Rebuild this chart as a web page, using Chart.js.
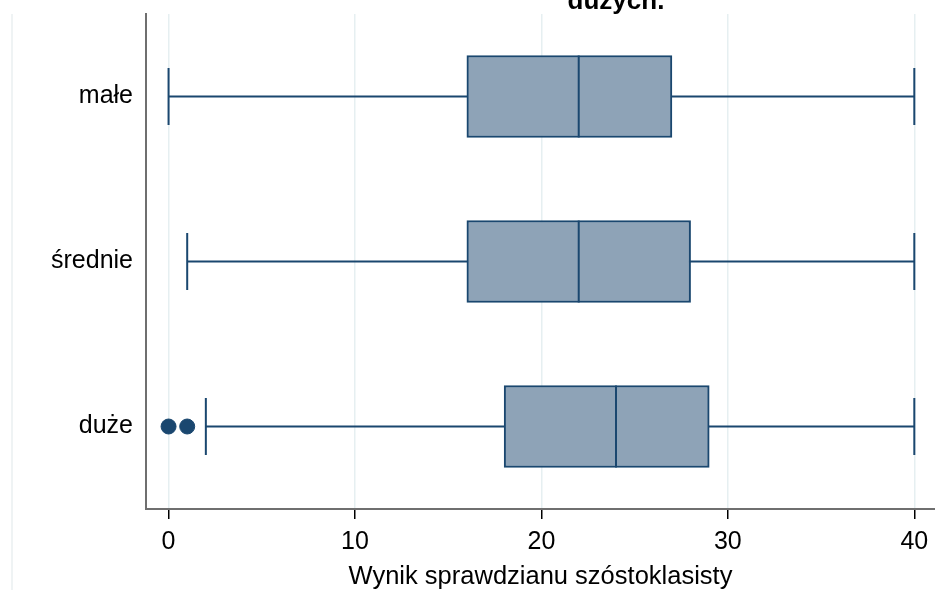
<!DOCTYPE html>
<html>
<head>
<meta charset="utf-8">
<script src="https://cdn.jsdelivr.net/npm/chart.js@4/dist/chart.umd.min.js"></script>
<style>
    html, body { margin: 0; padding: 0; background: #fff; }
    #wrap { width: 935px; height: 590px; }
</style>
</head>
<body>
<div id="wrap"><canvas id="box"></canvas></div>
<script>
// Wielkość szkoły vs wynik sprawdzianu
const groups = ['małe', 'średnie', 'duże'];
const whiskerLow = [0, 1, 2];
const q1 = [16, 16, 18];
const median = [22, 22, 24];
const q3 = [27, 28, 29];
const whiskerHigh = [40, 40, 40];
const outliers = [[], [], [0, 1]];
const xTicks = [0, 10, 20, 30, 40];
const xTitle = 'Wynik sprawdzianu szóstoklasisty';
const titleTail = 'dużych.';

const navy = '#1a476f';
const font = '"Liberation Sans", Arial, sans-serif';

const whiskers = groups.map((g, i) => ({
    type: 'line',
    data: [{ x: whiskerLow[i], y: g }, { x: whiskerHigh[i], y: g }],
    borderColor: navy,
    borderWidth: 2,
    pointRadius: 0,
    order: 2,
}));

const caps = [];
const outPts = [];
groups.forEach((g, i) => {
    caps.push({ x: whiskerLow[i], y: g });
    caps.push({ x: whiskerHigh[i], y: g });
    outliers[i].forEach(v => outPts.push({ x: v, y: g }));
});

// tytuł ucięty u góry + ramka obszaru wykresu
const extras = {
    id: 'extras',
    afterDraw(chart) {
        const ctx = chart.ctx;
        ctx.save();
        ctx.strokeStyle = '#eaeff0';
        ctx.lineWidth = 1.5;
        ctx.beginPath();
        ctx.moveTo(12, 14);
        ctx.lineTo(12, 590);
        ctx.stroke();
        ctx.fillStyle = '#000';
        ctx.font = 'bold 26px ' + font;
        ctx.textAlign = 'center';
        ctx.textBaseline = 'alphabetic';
        ctx.fillText(titleTail, 616, 9);
        ctx.restore();
    },
};

new Chart(document.querySelector('#box'), {
    type: 'bar',
    data: {
        labels: groups,
        datasets: [
            {
                type: 'scatter',
                data: median.map((m, i) => ({ x: m, y: groups[i] })),
                pointStyle: 'line',
                rotation: 90,
                radius: 41,
                borderColor: navy,
                borderWidth: 2,
                order: 0,
            },
            {
                type: 'scatter',
                data: caps,
                pointStyle: 'line',
                rotation: 90,
                radius: 28.5,
                borderColor: navy,
                borderWidth: 2,
                order: 0,
            },
            {
                type: 'scatter',
                data: outPts,
                pointStyle: 'circle',
                radius: 7.5,
                backgroundColor: navy,
                borderColor: navy,
                borderWidth: 1,
                order: 0,
            },
            {
                type: 'bar',
                indexAxis: 'y',
                data: groups.map((g, i) => ({ y: g, x: [q1[i], q3[i]] })),
                backgroundColor: '#8ea3b7',
                borderColor: navy,
                borderWidth: 2,
                borderSkipped: false,
                barThickness: 82,
                order: 1,
            },
            ...whiskers,
        ],
    },
    options: {
        responsive: true,
        maintainAspectRatio: false,
        animation: false,
        events: [],
        layout: { autoPadding: false, padding: { top: 14, left: 0, right: 0, bottom: 0 } },
        plugins: {
            legend: { display: false },
            tooltip: { enabled: false },
        },
        scales: {
            x: {
                type: 'linear',
                offset: false,
                min: -1.21,
                max: 41.11,
                afterBuildTicks: scale => {
                    scale.ticks = xTicks.map(v => ({ value: v }));
                },
                afterFit: scale => {
                    scale.height = 81;
                    scale.paddingLeft = 0;
                    scale.paddingRight = 0;
                },
                grid: {
                    offset: false,
                    color: '#e6eff1',
                    lineWidth: 1.5,
                    drawTicks: true,
                    tickLength: 10,
                    tickColor: '#000',
                    tickWidth: 1.5,
                },
                border: { display: true, color: '#6f6f6f', width: 2 },
                ticks: {
                    color: '#000',
                    padding: 8,
                    font: { family: font, size: 25 },
                },
                title: {
                    display: true,
                    text: xTitle,
                    color: '#000',
                    font: { family: font, size: 25.5, lineHeight: 1 },
                    padding: { top: 0, bottom: 0 },
                },
            },
            y: {
                type: 'category',
                labels: groups,
                offset: true,
                afterFit: scale => {
                    scale.width = 146;
                    scale.paddingTop = 0;
                    scale.paddingBottom = 0;
                },
                grid: { display: false, drawTicks: false },
                border: { display: true, color: '#6f6f6f', width: 2 },
                ticks: {
                    color: '#000',
                    padding: 13,
                    font: { family: font, size: 25 },
                },
            },
        },
    },
    plugins: [extras],
});
</script>
</body>
</html>
